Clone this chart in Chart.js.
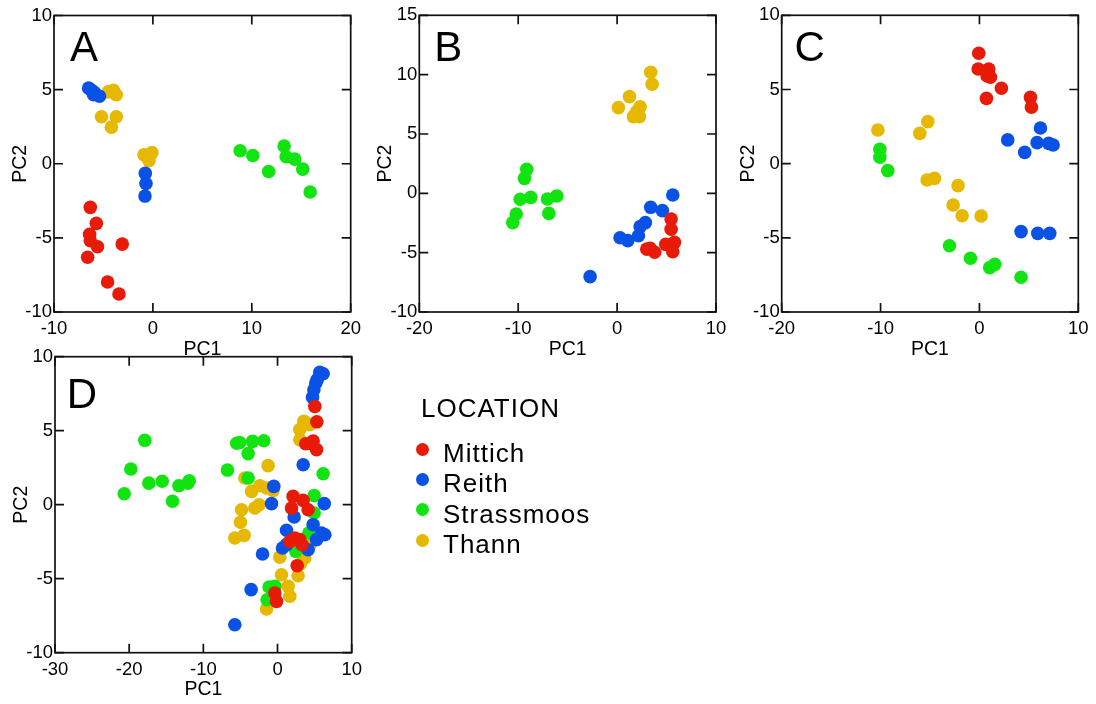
<!DOCTYPE html>
<html><head><meta charset="utf-8">
<script src="https://cdn.jsdelivr.net/npm/chart.js@4.4.1/dist/chart.umd.min.js"></script>
<style>
html,body{margin:0;padding:0;background:#fff;}
#wrap{position:relative;width:1096px;height:704px;overflow:hidden;font-family:"Liberation Sans",Arial,sans-serif;}
canvas{position:absolute;left:0;top:0;}
.lbl{position:absolute;white-space:nowrap;line-height:1;color:#000;}
.letter{font-size:42px;}
.leg{font-size:26px;letter-spacing:1px;}
.dot{position:absolute;width:13px;height:13px;border-radius:50%;}
</style></head><body>
<div id="wrap">
<canvas id="cA" width="1096" height="704"></canvas>
<canvas id="cB" width="1096" height="704"></canvas>
<canvas id="cC" width="1096" height="704"></canvas>
<canvas id="cD" width="1096" height="704"></canvas>
<div class="lbl letter" style="left:70px;top:25.7px">A</div>
<div class="lbl letter" style="left:434.2px;top:26.1px">B</div>
<div class="lbl letter" style="left:794.6px;top:26.4px">C</div>
<div class="lbl letter" style="left:66.8px;top:372.7px">D</div>
</div>
<script>
// ---- data ----
const locations = ['Mittich', 'Reith', 'Strassmoos', 'Thann'];
const legendTitle = 'LOCATION';
const xAxisTitle = 'PC1';
const yAxisTitle = 'PC2';

const A_Mittich = [[-6.33,-2.94],[-5.72,-4.02],[-6.4,-4.76],[-6.33,-5.19],[-5.6,-5.6],[-6.6,-6.31],[-3.1,-5.42],[-4.58,-7.98],[-3.43,-8.79]];
const A_Reith = [[-6.5,5.1],[-6.2,4.95],[-5.9,4.8],[-5.4,4.55],[-6.0,4.65],[-0.77,-0.65],[-0.7,-1.33],[-0.8,-2.18]];
const A_Strassmoos = [[8.82,0.88],[10.1,0.56],[11.7,-0.52],[13.27,1.19],[13.47,0.47],[14.34,0.31],[15.15,-0.36],[15.9,-1.91]];
const A_Thann = [[-4.5,4.85],[-4.0,4.95],[-3.7,4.65],[-5.2,3.17],[-3.7,3.17],[-4.2,2.47],[-0.9,0.6],[-0.1,0.75],[-0.4,0.2],[-0.3,0.55]];

const B_Mittich = [[5.46,-2.16],[5.46,-3.03],[3.34,-4.63],[3.8,-4.97],[4.92,-4.3],[5.8,-4.13],[5.63,-4.92],[3.0,-4.7]];
const B_Reith = [[5.63,-0.14],[3.4,-1.18],[4.58,-1.46],[2.86,-2.47],[2.33,-2.81],[2.16,-3.57],[0.3,-3.74],[1.08,-3.99],[-2.73,-7.02]];
const B_Strassmoos = [[-9.14,2.02],[-9.37,1.26],[-9.8,-0.5],[-8.73,-0.34],[-7.04,-0.48],[-6.1,-0.22],[-6.9,-1.69],[-10.2,-1.74],[-10.55,-2.47]];
const B_Thann = [[3.4,10.2],[3.54,9.19],[1.25,8.15],[0.13,7.22],[2.33,7.3],[1.65,6.46],[2.26,6.46],[2.0,6.9]];

const C_Mittich = [[-0.07,7.44],[-0.13,6.38],[0.94,6.38],[0.78,5.91],[1.11,5.82],[2.22,5.08],[0.71,4.4],[5.16,4.47],[5.26,3.8]];
const C_Reith = [[6.17,2.4],[2.86,1.6],[5.83,1.42],[7.01,1.37],[7.45,1.26],[4.58,0.76],[4.21,-4.58],[5.9,-4.7],[7.11,-4.7]];
const C_Strassmoos = [[-10.07,0.97],[-10.07,0.43],[-9.27,-0.47],[-3.03,-5.53],[-0.91,-6.38],[1.04,-7.01],[1.55,-6.79],[4.21,-7.66]];
const C_Thann = [[-10.27,2.27],[-5.22,2.83],[-6.03,2.04],[-5.29,-1.1],[-4.55,-0.99],[-2.16,-1.48],[-2.66,-2.79],[-1.75,-3.51],[0.17,-3.53]];

const D_Mittich = [[5.03,6.64],[5.3,5.6],[4.58,4.12],[5.26,3.72],[3.8,4.12],[4.8,4.3],[2.1,0.56],[3.45,0.29],[1.89,-0.23],[4.13,-0.34],[2.33,-2.25],[3.0,-2.36],[1.66,-2.48],[3.3,-2.7],[2.65,-4.12],[-0.36,-5.97],[-0.13,-6.53]];
const D_Reith = [[5.7,8.94],[6.15,8.85],[5.35,8.45],[5.16,8.22],[4.9,7.77],[4.72,7.25],[3.46,2.7],[-0.5,1.24],[-0.81,0.07],[6.3,0.07],[2.24,-0.83],[1.21,-1.73],[-2.02,-3.33],[-3.56,-5.74],[-5.76,-8.11],[4.8,-1.35],[5.93,-1.91],[6.38,-2.03],[5.26,-2.36],[0.67,-2.93],[1.21,-2.7],[4.13,-3.04]];
const D_Strassmoos = [[-20.67,0.74],[-19.78,2.41],[-17.89,4.35],[-17.35,1.46],[-15.55,1.58],[-14.16,0.23],[-13.3,1.28],[-12.1,1.45],[-11.9,1.62],[-6.75,2.34],[-5.5,4.15],[-5.1,4.2],[-3.37,4.28],[-1.85,4.32],[-3.96,3.45],[-3.96,1.8],[6.15,2.09],[4.94,0.61],[4.94,-0.56],[4.22,-1.91],[2.47,-3.15],[-1.13,-5.56],[-0.36,-5.52],[-1.4,-6.42]];
const D_Thann = [[3.55,5.63],[4.35,5.4],[3.0,5.07],[3.9,5.52],[3.0,4.39],[-1.27,2.64],[-4.4,1.8],[-3.5,0.9],[-2.39,1.28],[-1.48,1.13],[-0.59,0.97],[-3.06,-0.22],[-2.48,0.0],[-4.85,-0.34],[-5.0,-1.19],[-5.76,-2.25],[-4.5,-2.07],[4.35,-2.77],[0.31,-3.54],[3.68,-3.6],[3.1,-3.99],[0.54,-4.73],[2.78,-4.8],[1.43,-5.52],[1.66,-6.19],[-1.48,-7.05]];

// axis ranges per panel
const A_xRange = [-10, 20], A_yRange = [-10, 10];
const B_xRange = [-20, 10], B_yRange = [-10, 15];
const C_xRange = [-20, 10], C_yRange = [-10, 10];
const D_xRange = [-30, 10], D_yRange = [-10, 10];
const xStep = 10, yStep = 5;

// ---- styles ----
const colors = ['#e81a08', '#0a52e6', '#12e412', '#e6b800'];
const FONT = '"Liberation Sans", Arial, sans-serif';
const Yw = 45, Xh = 49, TICK = 9;

const framePlugin = {
  id: 'frame',
  afterDatasetsDraw(chart) {
    const {ctx, chartArea: a, scales: {x, y}} = chart;
    ctx.save();
    ctx.strokeStyle = '#111';
    ctx.lineWidth = 1.7;
    ctx.beginPath();
    x.ticks.forEach(t => {
      const p = x.getPixelForValue(t.value);
      ctx.moveTo(p, a.top); ctx.lineTo(p, a.top + TICK);
      ctx.moveTo(p, a.bottom); ctx.lineTo(p, a.bottom - TICK);
    });
    y.ticks.forEach(t => {
      const p = y.getPixelForValue(t.value);
      ctx.moveTo(a.left, p); ctx.lineTo(a.left + TICK, p);
      ctx.moveTo(a.right, p); ctx.lineTo(a.right - TICK, p);
    });
    ctx.stroke();
    ctx.strokeRect(a.left, a.top, a.right - a.left, a.bottom - a.top);
    ctx.restore();
  }
};

function makePanel(id, series, xr, yr, box) {
  const datasets = series.map((pts, i) => ({
    label: locations[i],
    data: pts.map(p => ({x: p[0], y: p[1]})),
    backgroundColor: colors[i],
    borderWidth: 0,
    pointRadius: 6.8,
    pointHoverRadius: 6.8
  }));
  const tickFont = {family: FONT, size: 18.5};
  const titleFont = {family: FONT, size: 19.5};
  new Chart(document.getElementById(id), {
    type: 'scatter',
    data: {datasets},
    plugins: [framePlugin],
    options: {
      responsive: false,
      animation: false,
      events: [],
      layout: {padding: {left: box.L - Yw, top: box.T, right: 1096 - box.R, bottom: 704 - box.B - Xh}},
      plugins: {legend: {display: false}, tooltip: {enabled: false}},
      scales: {
        x: {
          type: 'linear', position: 'bottom', min: xr[0], max: xr[1],
          afterFit: s => { s.height = Xh; },
          grid: {display: false, drawTicks: false},
          border: {display: false},
          ticks: {stepSize: xStep, autoSkip: false, maxRotation: 0, color: '#000', font: tickFont, padding: 6},
          title: {display: true, text: xAxisTitle, color: '#000', font: titleFont, padding: 0}
        },
        y: {
          type: 'linear', position: 'left', min: yr[0], max: yr[1],
          afterFit: s => { s.width = Yw; },
          grid: {display: false, drawTicks: false},
          border: {display: false},
          ticks: {stepSize: yStep, autoSkip: false, color: '#000', font: tickFont, padding: 2},
          title: {display: true, text: yAxisTitle, color: '#000', font: titleFont, padding: 0}
        }
      }
    }
  });
}

makePanel('cA', [A_Mittich, A_Reith, A_Strassmoos, A_Thann], A_xRange, A_yRange, {L: 54, R: 350.7, T: 15.5, B: 312});
makePanel('cB', [B_Mittich, B_Reith, B_Strassmoos, B_Thann], B_xRange, B_yRange, {L: 419.3, R: 716, T: 15.3, B: 312});
makePanel('cC', [C_Mittich, C_Reith, C_Strassmoos, C_Thann], C_xRange, C_yRange, {L: 781.7, R: 1078.3, T: 15.3, B: 312});
makePanel('cD', [D_Mittich, D_Reith, D_Strassmoos, D_Thann], D_xRange, D_yRange, {L: 55, R: 351.7, T: 356.7, B: 652.7});

// ---- legend (HTML) ----
const wrap = document.getElementById('wrap');
function addText(txt, left, top, cls) {
  const d = document.createElement('div');
  d.className = 'lbl ' + cls;
  d.style.left = left + 'px'; d.style.top = top + 'px';
  d.textContent = txt;
  wrap.appendChild(d);
}
addText(legendTitle, 421, 394.7, 'leg');
const legTops = [439.7, 470.2, 500.7, 531.2];
const dotCy = [449.3, 479.5, 509.8, 540];
locations.forEach((name, i) => {
  addText(name, 443, legTops[i], 'leg');
  const dot = document.createElement('div');
  dot.className = 'dot';
  dot.style.left = (422.7 - 6.5) + 'px';
  dot.style.top = (dotCy[i] - 6.5) + 'px';
  dot.style.background = colors[i];
  wrap.appendChild(dot);
});
</script>
</body></html>
